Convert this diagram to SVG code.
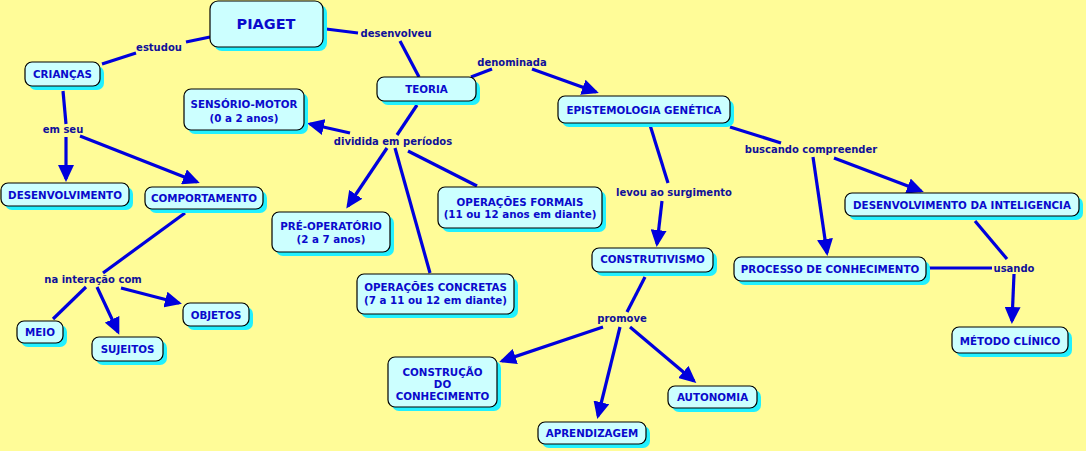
<svg xmlns="http://www.w3.org/2000/svg" width="1086" height="451" viewBox="0 0 1086 451">
<style>
.bg{fill:#FFFC98}
.sh{fill:#22F0FF}
.bx{fill:#CCFFFF;stroke:#000;stroke-width:1.2}
.t{font-family:"DejaVu Sans","Liberation Sans",sans-serif;font-weight:bold;font-size:10.3px;fill:#0A0ACC;text-anchor:middle}
.l{font-family:"DejaVu Sans","Liberation Sans",sans-serif;font-weight:bold;font-size:10px;fill:#10109A;text-anchor:middle}
.c{stroke:#0000DD;stroke-width:3.2;fill:none}
.a{marker-end:url(#ah)}
</style>
<defs>
<marker id="ah" markerUnits="userSpaceOnUse" markerWidth="18" markerHeight="16" refX="14" refY="8" orient="auto">
<path d="M0,0 L17,8 L0,16 z" fill="#0000DD"/>
</marker>
</defs>
<rect class="bg" x="0" y="0" width="1086" height="451"/>
<g id="connectors">
<line class="c" x1="210" y1="37" x2="186" y2="42"/>
<line class="c" x1="136" y1="53" x2="102" y2="64"/>
<line class="c" x1="326" y1="29" x2="358" y2="33"/>
<line class="c" x1="400" y1="41" x2="419" y2="77"/>
<line class="c" x1="471" y1="77" x2="492" y2="69"/>
<line class="c a" x1="532" y1="69" x2="596" y2="92"/>
<line class="c" x1="417" y1="105" x2="397" y2="135"/>
<line class="c a" x1="350" y1="133" x2="310" y2="124"/>
<line class="c a" x1="387" y1="148" x2="348" y2="206"/>
<line class="c" x1="395" y1="148" x2="430" y2="273"/>
<line class="c" x1="408" y1="151" x2="477" y2="186"/>
<line class="c" x1="650" y1="125" x2="668" y2="183"/>
<line class="c a" x1="662" y1="201" x2="657" y2="244"/>
<line class="c" x1="730" y1="127" x2="781" y2="143"/>
<line class="c a" x1="834" y1="158" x2="921" y2="191"/>
<line class="c a" x1="813" y1="157" x2="827" y2="253"/>
<line class="c" x1="975" y1="221" x2="1007" y2="259"/>
<line class="c" x1="929" y1="268" x2="992" y2="268"/>
<line class="c a" x1="1014" y1="274" x2="1012" y2="321"/>
<line class="c" x1="63" y1="91" x2="66" y2="124"/>
<line class="c a" x1="66" y1="137" x2="66" y2="179"/>
<line class="c a" x1="80" y1="136" x2="197" y2="182"/>
<line class="c" x1="185" y1="213" x2="103" y2="273"/>
<line class="c" x1="86" y1="287" x2="53" y2="319"/>
<line class="c a" x1="97" y1="287" x2="118" y2="332"/>
<line class="c a" x1="121" y1="288" x2="179" y2="303"/>
<line class="c" x1="645" y1="277" x2="627" y2="312"/>
<line class="c a" x1="603" y1="327" x2="502" y2="361"/>
<line class="c a" x1="620" y1="327" x2="598" y2="416"/>
<line class="c a" x1="630" y1="327" x2="694" y2="381"/>
</g>
<g id="labels">
<text class="l" x="159" y="51">estudou</text>
<text class="l" x="396" y="37">desenvolveu</text>
<text class="l" x="512" y="66">denominada</text>
<text class="l" x="393" y="145">dividida em períodos</text>
<text class="l" x="811" y="153">buscando compreender</text>
<text class="l" x="674" y="196">levou ao surgimento</text>
<text class="l" x="63" y="133">em seu</text>
<text class="l" x="93" y="283">na interação com</text>
<text class="l" x="622" y="322">promove</text>
<text class="l" x="1014" y="272">usando</text>
</g>
<g id="n-piaget"><rect class="sh" x="214" y="5" width="113" height="46" rx="8"/><rect class="bx" x="210" y="1" width="113" height="46" rx="8"/><text class="t" x="266" y="29" style="font-size:14.5px">PIAGET</text></g>
<g id="n-criancas"><rect class="sh" x="29" y="66" width="75" height="24" rx="7"/><rect class="bx" x="25" y="62" width="75" height="24" rx="7"/><text class="t" x="62.5" y="78">CRIANÇAS</text></g>
<g id="n-sensorio"><rect class="sh" x="188" y="93" width="120" height="41" rx="7"/><rect class="bx" x="184" y="89" width="120" height="41" rx="7"/><text class="t" x="244" y="108">SENSÓRIO-MOTOR</text><text class="t" x="244" y="122">(0 a 2 anos)</text></g>
<g id="n-teoria"><rect class="sh" x="381" y="81" width="99" height="24" rx="7"/><rect class="bx" x="377" y="77" width="99" height="24" rx="7"/><text class="t" x="426.5" y="93">TEORIA</text></g>
<g id="n-epist"><rect class="sh" x="562" y="100" width="172" height="27" rx="7"/><rect class="bx" x="558" y="96" width="172" height="27" rx="7"/><text class="t" x="644" y="114">EPISTEMOLOGIA GENÉTICA</text></g>
<g id="n-desintel"><rect class="sh" x="849" y="197" width="234" height="23" rx="7"/><rect class="bx" x="845" y="193" width="234" height="23" rx="7"/><text class="t" x="962" y="209">DESENVOLVIMENTO DA INTELIGENCIA</text></g>
<g id="n-desenv"><rect class="sh" x="5" y="187" width="128" height="23" rx="7"/><rect class="bx" x="1" y="183" width="128" height="23" rx="7"/><text class="t" x="65" y="199">DESENVOLVIMENTO</text></g>
<g id="n-comport"><rect class="sh" x="149" y="191" width="118" height="22" rx="7"/><rect class="bx" x="145" y="187" width="118" height="22" rx="7"/><text class="t" x="204" y="202">COMPORTAMENTO</text></g>
<g id="n-preop"><rect class="sh" x="276" y="216" width="118" height="40" rx="7"/><rect class="bx" x="272" y="212" width="118" height="40" rx="7"/><text class="t" x="331" y="230">PRÉ-OPERATÓRIO</text><text class="t" x="331" y="243">(2 a 7 anos)</text></g>
<g id="n-formais"><rect class="sh" x="442" y="191" width="164" height="41" rx="7"/><rect class="bx" x="438" y="187" width="164" height="41" rx="7"/><text class="t" x="520" y="206">OPERAÇÕES FORMAIS</text><text class="t" x="520" y="218">(11 ou 12 anos em diante)</text></g>
<g id="n-concretas"><rect class="sh" x="361" y="278" width="157" height="40" rx="7"/><rect class="bx" x="357" y="274" width="157" height="40" rx="7"/><text class="t" x="435.5" y="291">OPERAÇÕES CONCRETAS</text><text class="t" x="435.5" y="304">(7 a 11 ou 12 em diante)</text></g>
<g id="n-construtivismo"><rect class="sh" x="596" y="252" width="121" height="24" rx="7"/><rect class="bx" x="592" y="248" width="121" height="24" rx="7"/><text class="t" x="652.5" y="263">CONSTRUTIVISMO</text></g>
<g id="n-construcao"><rect class="sh" x="392" y="361" width="109" height="50" rx="7"/><rect class="bx" x="388" y="357" width="109" height="50" rx="7"/><text class="t" x="442.5" y="376">CONSTRUÇÃO</text><text class="t" x="442.5" y="388">DO</text><text class="t" x="442.5" y="400">CONHECIMENTO</text></g>
<g id="n-autonomia"><rect class="sh" x="672" y="390" width="89" height="22" rx="7"/><rect class="bx" x="668" y="386" width="89" height="22" rx="7"/><text class="t" x="712.5" y="401">AUTONOMIA</text></g>
<g id="n-aprendizagem"><rect class="sh" x="542" y="426" width="108" height="22" rx="7"/><rect class="bx" x="538" y="422" width="108" height="22" rx="7"/><text class="t" x="592" y="437">APRENDIZAGEM</text></g>
<g id="n-processo"><rect class="sh" x="738" y="261" width="192" height="24" rx="7"/><rect class="bx" x="734" y="257" width="192" height="24" rx="7"/><text class="t" x="830" y="273">PROCESSO DE CONHECIMENTO</text></g>
<g id="n-metodo"><rect class="sh" x="956" y="331" width="116" height="26" rx="7"/><rect class="bx" x="952" y="327" width="116" height="26" rx="7"/><text class="t" x="1010" y="345">MÉTODO CLÍNICO</text></g>
<g id="n-meio"><rect class="sh" x="21" y="325" width="46" height="22" rx="7"/><rect class="bx" x="17" y="321" width="46" height="22" rx="7"/><text class="t" x="40" y="336">MEIO</text></g>
<g id="n-sujeitos"><rect class="sh" x="96" y="341" width="71" height="24" rx="7"/><rect class="bx" x="92" y="337" width="71" height="24" rx="7"/><text class="t" x="127.5" y="353">SUJEITOS</text></g>
<g id="n-objetos"><rect class="sh" x="187" y="307" width="66" height="23" rx="7"/><rect class="bx" x="183" y="303" width="66" height="23" rx="7"/><text class="t" x="216" y="319">OBJETOS</text></g>
</svg>
